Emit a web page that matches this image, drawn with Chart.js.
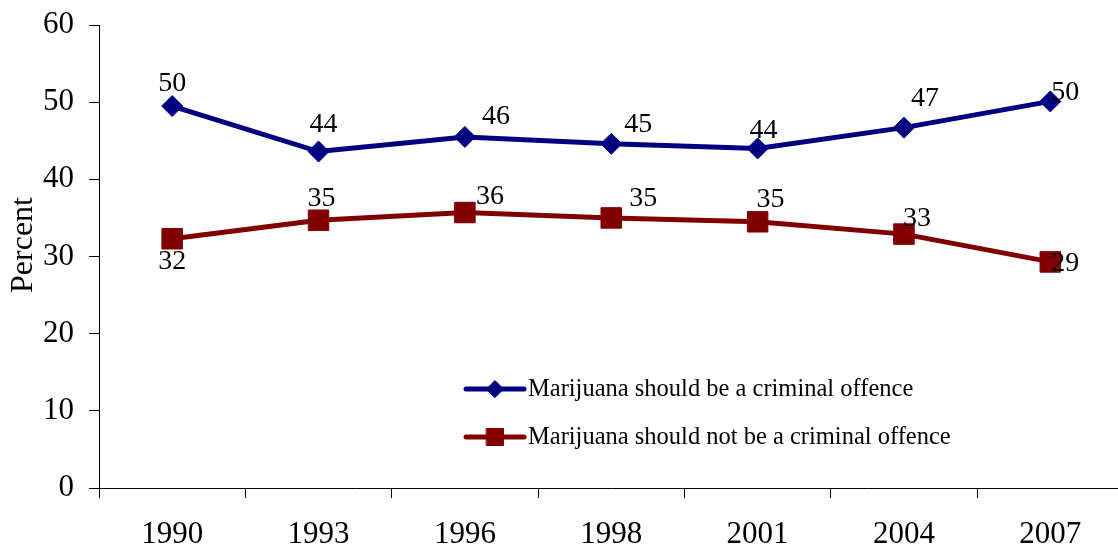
<!DOCTYPE html>
<html>
<head>
<meta charset="utf-8">
<script src="https://cdn.jsdelivr.net/npm/chart.js@4.4.0/dist/chart.umd.min.js"></script>
<style>
  html, body { margin: 0; padding: 0; background: #fff; overflow: hidden; }
  #wrap { width: 1139px; height: 550px; }
</style>
</head>
<body>
<div id="wrap"><canvas id="chart" width="1139" height="550"></canvas></div>
<script>
// Survey years and the two series (percent)
const years = ["1990", "1993", "1996", "1998", "2001", "2004", "2007"];
const criminal = [49.5, 43.6, 45.5, 44.6, 44.0, 46.7, 50.1];
const notCriminal = [32.3, 34.7, 35.7, 35.0, 34.5, 32.9, 29.3];
const criminalLabels = ["50", "44", "46", "45", "44", "47", "50"];
const notCriminalLabels = ["32", "35", "36", "35", "35", "33", "29"];
const yTicks = [0, 10, 20, 30, 40, 50, 60];

// where each value label sits relative to its point (layout only)
const labelOffsets = [
  [[0, -22], [5, -27], [31, -20], [27, -19], [6, -18], [21, -29], [15, -9]],
  [[0, 23], [3, -22], [25, -16], [32, -19], [13, -22], [13, -15], [15, 2]],
];

const SERIF = "'Liberation Serif', 'Times New Roman', serif";

// value labels next to each marker
const valueLabels = {
  id: "valueLabels",
  afterDatasetsDraw(chart) {
    const { ctx } = chart;
    ctx.save();
    ctx.font = `28px ${SERIF}`;
    ctx.fillStyle = "#000";
    ctx.textAlign = "center";
    ctx.textBaseline = "middle";
    chart.data.datasets.forEach((ds, di) => {
      chart.getDatasetMeta(di).data.forEach((pt, i) => {
        const [dx, dy] = labelOffsets[di][i];
        ctx.fillText(ds.valueText[i], pt.x + dx, pt.y + dy);
      });
    });
    ctx.restore();
  },
};

// y-axis title, sits a little above the middle of the axis
const yTitle = {
  id: "yTitle",
  afterDraw(chart) {
    const { ctx } = chart;
    ctx.save();
    ctx.translate(24, 245);
    ctx.rotate(-Math.PI / 2);
    ctx.font = `32px ${SERIF}`;
    ctx.fillStyle = "#000";
    ctx.textAlign = "center";
    ctx.textBaseline = "middle";
    ctx.fillText("Percent", 0, 0);
    ctx.restore();
  },
};

// legend drawn as line + marker, inside the plot
const lineLegend = {
  id: "lineLegend",
  afterDraw(chart) {
    const { ctx } = chart;
    const x0 = 466, x1 = 524, rows = [389, 437];
    const legendRadius = [8.5, 12];
    ctx.save();
    chart.data.datasets.forEach((ds, di) => {
      const y = rows[di];
      ctx.strokeStyle = ds.borderColor;
      ctx.lineWidth = 5;
      ctx.lineCap = "round";
      ctx.beginPath();
      ctx.moveTo(x0, y);
      ctx.lineTo(x1, y);
      ctx.stroke();
      ctx.fillStyle = ds.borderColor;
      ctx.lineWidth = 1;
      Chart.helpers.drawPoint(ctx, {
        pointStyle: ds.pointStyle,
        radius: legendRadius[di],
        borderWidth: 1,
        rotation: 0,
      }, (x0 + x1) / 2, y);
      ctx.font = `24.5px ${SERIF}`;
      ctx.fillStyle = "#000";
      ctx.textAlign = "left";
      ctx.textBaseline = "middle";
      ctx.fillText(ds.label, x1 + 4, y + 1);
    });
    ctx.restore();
  },
};

new Chart(document.getElementById("chart"), {
  type: "line",
  data: {
    labels: years,
    datasets: [
      {
        label: "Marijuana should be a criminal offence",
        data: criminal,
        valueText: criminalLabels,
        borderColor: "#000080",
        backgroundColor: "#000080",
        borderWidth: 5,
        pointStyle: "rectRot",
        pointRadius: 10.5,
        pointBorderWidth: 1,
      },
      {
        label: "Marijuana should not be a criminal offence",
        data: notCriminal,
        valueText: notCriminalLabels,
        borderColor: "#800000",
        backgroundColor: "#800000",
        borderWidth: 5,
        pointStyle: "rect",
        pointRadius: 14.5,
        pointBorderWidth: 1,
      },
    ],
  },
  options: {
    responsive: false,
    animation: false,
    devicePixelRatio: 1,
    layout: { padding: { top: 25, right: 0, bottom: 0, left: 0 } },
    plugins: { legend: { display: false }, tooltip: { enabled: false } },
    scales: {
      x: {
        offset: true,
        afterFit(scale) { scale.height = 62; },
        grid: {
          offset: true,
          drawOnChartArea: false,
          drawTicks: true,
          tickLength: 10,
          color: "#000",
        },
        border: { color: "#000", width: 1 },
        ticks: {
          color: "#000",
          font: { family: SERIF, size: 31, lineHeight: 1 },
          padding: 21,
          maxRotation: 0,
        },
      },
      y: {
        min: 0,
        max: 60,
        afterFit(scale) {
          scale.width = 99;
          scale.paddingTop = 0;
          scale.paddingBottom = 0;
        },
        afterBuildTicks(scale) { scale.ticks = yTicks.map((v) => ({ value: v })); },
        grid: { drawOnChartArea: false, tickLength: 10, color: "#000" },
        border: { color: "#000", width: 1 },
        ticks: {
          color: "#000",
          font: { family: SERIF, size: 31, lineHeight: 1 },
          padding: 15,
        },
      },
    },
  },
  plugins: [valueLabels, lineLegend, yTitle],
});
</script>
</body>
</html>
